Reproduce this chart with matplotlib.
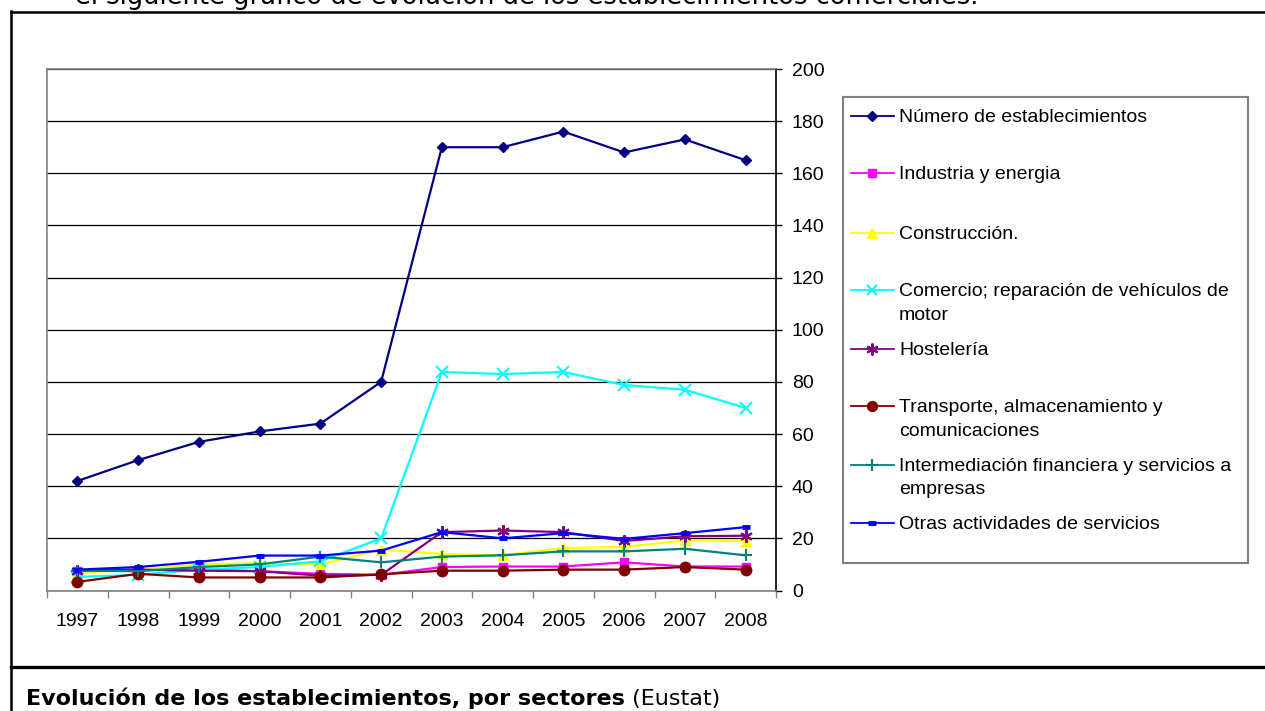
import numpy as np
import matplotlib
matplotlib.use("Agg")
import matplotlib.pyplot as plt
from matplotlib.lines import Line2D

# ---------------- data ----------------
years = ['1997', '1998', '1999', '2000', '2001', '2002',
         '2003', '2004', '2005', '2006', '2007', '2008']
numero = [42, 50, 57, 61, 64, 80, 170, 170, 176, 168, 173, 165]
industria = [7.4, 8, 8, 7.4, 6.4, 6, 9, 9.2, 9.2, 10.8, 9.2, 9.2]
construccion = [6.8, 8, 10, 10.5, 10, 15.7, 14, 13.5, 16.3, 16.7, 19.2, 19]
comercio = [5.2, 6, 8, 9, 11.2, 20, 83.8, 83, 83.8, 78.8, 77, 70]
hosteleria = [7.6, 8, 7.6, 7.4, 5.7, 6, 22.4, 23, 22.4, 19, 20.8, 21]
transporte = [3.3, 6.4, 5, 5, 5, 6.2, 7.6, 7.6, 8, 8, 9, 8]
intermediacion = [7.6, 7.4, 9, 10, 13, 10.8, 13, 13.5, 15, 15, 16, 13.5]
otras = [8, 9, 11, 13.4, 13.4, 15.3, 22.4, 20, 22, 19.8, 22, 24.3]

labels = ['Número de establecimientos', 'Industria y energia', 'Construcción.',
          'Comercio; reparación de vehículos de\nmotor', 'Hostelería',
          'Transporte, almacenamiento y\ncomunicaciones',
          'Intermediación financiera y servicios a\nempresas',
          'Otras actividades de servicios']
yticks = [0, 20, 40, 60, 80, 100, 120, 140, 160, 180, 200]

series = [numero, industria, construccion, comercio, hosteleria,
          transporte, intermediacion, otras]
styles = [
    dict(color='#000080', marker='D', ms=5.5),
    dict(color='#FF00FF', marker='s', ms=5.5),
    dict(color='#FFFF00', marker='^', ms=7.5),
    dict(color='#00FFFF', marker='x', ms=8, mew=1.5),
    dict(color='#800080', marker=(6, 2, 0), ms=9, mew=1.5),
    dict(color='#800000', marker='o', ms=7.5),
    dict(color='#008080', marker='+', ms=9, mew=1.5),
    dict(color='#0000FF', marker='_', ms=6, mew=3.5),
]

W, H = 1265, 711
fig = plt.figure(figsize=(W / 100, H / 100), dpi=100)
fig.patch.set_facecolor('white')

def fx(px):
    return px / W

def fy(py):
    return 1 - py / H

# ---------------- main axes ----------------
L, R, T, B = 47, 776, 69, 590.5
ax = fig.add_axes([fx(L), fy(B), fx(R - L), (B - T) / H])
x = np.arange(len(years))
for data, st in zip(series, styles):
    ax.plot(x, data, color=st['color'], lw=1.6, marker=st['marker'],
            markersize=st['ms'], markeredgewidth=st.get('mew', 1),
            markerfacecolor=st['color'], markeredgecolor=st['color'], zorder=3)

ax.set_xlim(-0.5, len(years) - 0.5)
ax.set_ylim(0, 200)
ax.set_yticks(yticks)
ax.yaxis.tick_right()
ax.tick_params(axis='y', which='major', direction='out', length=4, width=1,
               color='black', pad=7.5, labelsize=14)
ax.grid(axis='y', color='black', lw=0.9, zorder=1)
ax.set_axisbelow(True)

ax.set_xticks(np.arange(-0.5, len(years), 1))
ax.set_xticklabels([])
ax.set_xticks(x, minor=True)
ax.set_xticklabels(years, minor=True)
ax.tick_params(axis='x', which='major', direction='out', length=5, width=1,
               color='#808080')
ax.tick_params(axis='x', which='minor', length=0, pad=16, labelsize=14)

for s in ['left', 'top', 'bottom']:
    ax.spines[s].set_color('#808080')
    ax.spines[s].set_linewidth(1.2)
ax.spines['right'].set_color('black')
ax.spines['right'].set_linewidth(1.2)
for lab in ax.get_xticklabels(minor=True) + ax.get_yticklabels():
    lab.set_fontfamily('Liberation Sans')

# ---------------- legend (manual) ----------------
LL, LR, LT, LB = 843, 1248, 97, 563
lax = fig.add_axes([fx(LL), fy(LB), fx(LR - LL), (LB - LT) / H])
lax.set_xlim(LL, LR)
lax.set_ylim(LB, LT)
lax.set_xticks([])
lax.set_yticks([])
for s in lax.spines.values():
    s.set_color('#808080')
    s.set_linewidth(1.5)
entry_y = [115.7, 173, 232.7, 290, 348.7, 406, 465, 522.7]
for yy, lab, st in zip(entry_y, labels, styles):
    lax.plot([851, 894], [yy, yy], color=st['color'], lw=1.3)
    lax.plot([872], [yy], color=st['color'], marker=st['marker'],
             markersize=st['ms'] * 0.95, markeredgewidth=st.get('mew', 1),
             markerfacecolor=st['color'], markeredgecolor=st['color'])
    for k, line in enumerate(lab.split('\n')):
        lax.text(899, yy + 6 + 23.5 * k, line, fontsize=14,
                 family='Liberation Sans', va='baseline', ha='left')

# ---------------- frame and texts ----------------
fig.add_artist(Line2D([fx(11), fx(W)], [fy(12), fy(12)], color='black', lw=1.8))
fig.add_artist(Line2D([fx(11), fx(11)], [fy(11), fy(H)], color='black', lw=1.8))
fig.add_artist(Line2D([fx(11), fx(W)], [fy(667), fy(667)], color='black', lw=2.4))

fig.text(fx(75), fy(4.5), 'el siguiente gráfico de evolución de los establecimientos comerciales.',
         fontsize=18.5, family='DejaVu Sans', va='baseline', ha='left')

cap = fig.text(fx(26), fy(705), 'Evolución de los establecimientos, por sectores',
               fontsize=16, family='DejaVu Sans', weight='bold',
               va='baseline', ha='left')
fig.canvas.draw()
bb = cap.get_window_extent(renderer=fig.canvas.get_renderer())
fig.text(bb.x1 / W, fy(705), ' (Eustat)', fontsize=16, family='DejaVu Sans',
         va='baseline', ha='left')

fig.savefig('out.png', dpi=100, facecolor='white')
